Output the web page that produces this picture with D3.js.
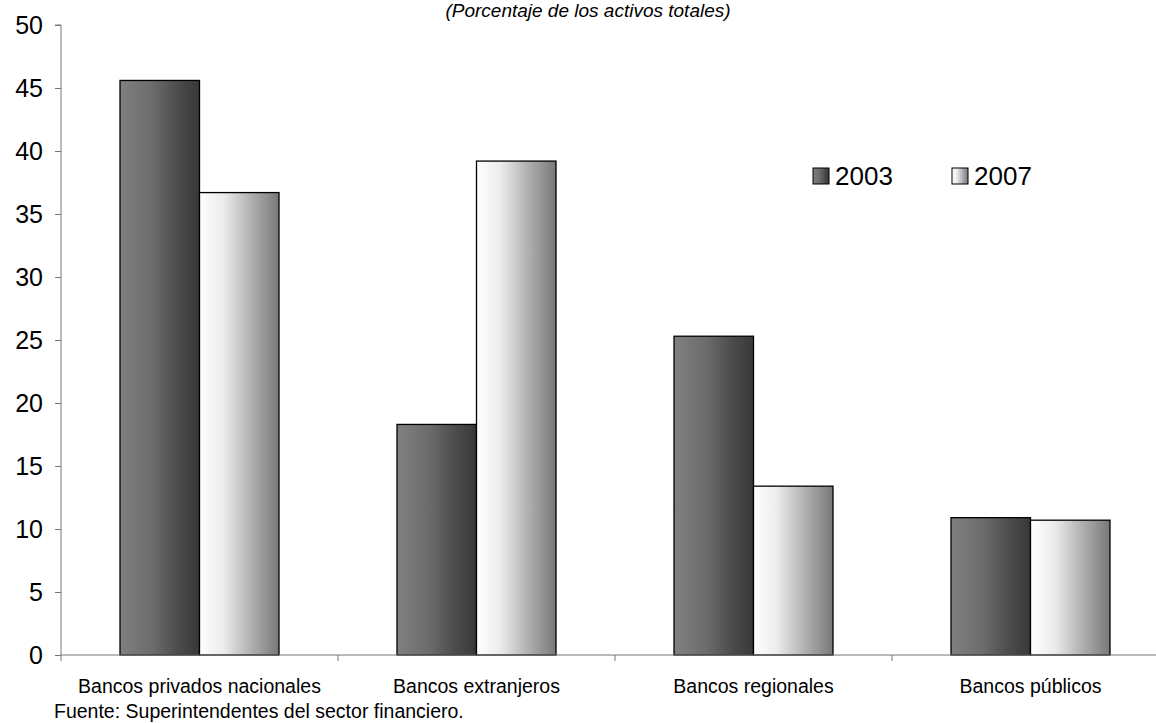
<!DOCTYPE html>
<html>
<head>
<meta charset="utf-8">
<script src="https://cdn.jsdelivr.net/npm/d3@7"></script>
<style>
  body { margin: 0; background: #fff; }
  text { font-family: "Liberation Sans", Arial, sans-serif; fill: #000; }
</style>
</head>
<body>
<div id="chart"></div>
<script>
// Data
const categories = ['Bancos privados nacionales', 'Bancos extranjeros', 'Bancos regionales', 'Bancos públicos']
const series = ['2003', '2007']
const values2003 = [45.6, 18.3, 25.3, 10.9]
const values2007 = [36.7, 39.2, 13.4, 10.7]
const yTicks = [0, 5, 10, 15, 20, 25, 30, 35, 40, 45, 50]
const title = '(Porcentaje de los activos totales)'
const source = 'Fuente: Superintendentes del sector financiero.'

const dataset = categories.map((c, i) => ({
  category: c,
  values: [{ key: '2003', value: values2003[i] }, { key: '2007', value: values2007[i] }]
}))

// Dimensions
const dimensions = {
  width: 1156,
  height: 723,
  left: 61,
  top: 25,
  bottom: 655,
  band: 277
}

const svg = d3.select('#chart')
  .append('svg')
  .attr('width', dimensions.width)
  .attr('height', dimensions.height)

// gradients
const defs = svg.append('defs')
const gradStops = {
  '2003': [['0%', '#808080'], ['40%', '#6c6c6c'], ['75%', '#4a4a4a'], ['100%', '#383838']],
  '2007': [['0%', '#ffffff'], ['30%', '#ececec'], ['65%', '#b0b0b0'], ['100%', '#787878']]
}
series.forEach(s => {
  const g = defs.append('linearGradient')
    .attr('id', 'grad' + s)
    .attr('x1', '0%').attr('x2', '100%').attr('y1', '0%').attr('y2', '0%')
  g.selectAll('stop')
    .data(gradStops[s])
    .join('stop')
    .attr('offset', d => d[0])
    .attr('stop-color', d => d[1])
})

// scales
const xScale = d3.scaleBand()
  .domain(categories)
  .range([dimensions.left, dimensions.left + dimensions.band * categories.length])

const barW = 79.5
const x1 = d3.scaleBand()
  .domain(series)
  .range([xScale.bandwidth() / 2 - barW, xScale.bandwidth() / 2 + barW])

const yScale = d3.scaleLinear()
  .domain([0, 50])
  .range([dimensions.bottom, dimensions.top])

// title
svg.append('text')
  .attr('x', 588)
  .attr('y', 17)
  .attr('text-anchor', 'middle')
  .style('font-size', '19px')
  .style('font-style', 'italic')
  .text(title)

// bars
const groups = svg.append('g')
  .selectAll('g')
  .data(dataset)
  .join('g')
  .attr('transform', d => `translate(${xScale(d.category)},0)`)

groups.selectAll('rect')
  .data(d => d.values)
  .join('rect')
  .attr('x', d => x1(d.key))
  .attr('width', x1.bandwidth())
  .attr('y', d => yScale(d.value))
  .attr('height', d => yScale(0) - yScale(d.value))
  .attr('fill', d => `url(#grad${d.key})`)
  .attr('stroke', '#000')
  .attr('stroke-width', 1.3)

// axes
const yAxis = d3.axisLeft(yScale)
  .tickValues(yTicks)
  .tickSize(6)
  .tickPadding(12)

const yAxisGroup = svg.append('g')
  .attr('transform', `translate(${dimensions.left},0)`)
  .call(yAxis)
yAxisGroup.select('.domain').attr('stroke', '#777').attr('d', `M-6,${dimensions.top}H0V${dimensions.bottom}`)
yAxisGroup.selectAll('line').attr('stroke', '#777')
yAxisGroup.selectAll('text')
  .style('font-size', '25px')
  .style('font-family', '"Liberation Sans", Arial, sans-serif')
  .attr('dy', '0.35em')

const xAxisGroup = svg.append('g')
  .attr('transform', `translate(0,${dimensions.bottom})`)
xAxisGroup.append('line')
  .attr('x1', dimensions.left)
  .attr('x2', dimensions.left + dimensions.band * categories.length)
  .attr('stroke', '#777')
xAxisGroup.selectAll('.tick')
  .data(categories)
  .join('line')
  .attr('x1', d => xScale(d))
  .attr('x2', d => xScale(d))
  .attr('y1', 0)
  .attr('y2', 6)
  .attr('stroke', '#777')
xAxisGroup.selectAll('text')
  .data(categories)
  .join('text')
  .attr('x', d => xScale(d) + xScale.bandwidth() / 2)
  .attr('y', 38)
  .attr('text-anchor', 'middle')
  .style('font-size', '19.5px')
  .text(d => d)

// legend
const legend = svg.append('g')
  .attr('transform', 'translate(813,0)')
const legendItems = legend.selectAll('g')
  .data(series)
  .join('g')
  .attr('transform', (d, i) => `translate(${i * 139},0)`)
legendItems.append('rect')
  .attr('x', 0)
  .attr('y', 168)
  .attr('width', 16)
  .attr('height', 16)
  .attr('fill', d => `url(#grad${d})`)
  .attr('stroke', '#000')
legendItems.append('text')
  .attr('x', 22)
  .attr('y', 185)
  .style('font-size', '26px')
  .text(d => d)

// source
svg.append('text')
  .attr('x', 54)
  .attr('y', 718)
  .style('font-size', '19.5px')
  .text(source)
</script>
</body>
</html>
